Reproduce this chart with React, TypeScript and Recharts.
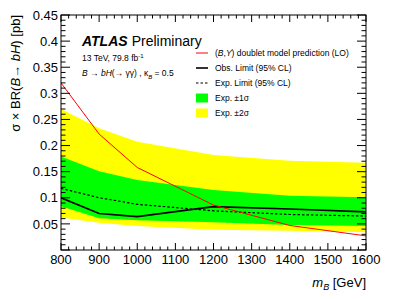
// Cross-section x BR limit vs. B mass, ATLAS-style (inward ticks, framed plot).
// Bands are drawn as range Areas, limits and the theory curve as Lines.

import { Area, ComposedChart, Line, XAxis, YAxis } from 'recharts';

const MASSES = [800, 900, 1000, 1200, 1400, 1600];
const THEORY = [0.32, 0.222, 0.158, 0.086, 0.047, 0.027];
const OBS_LIMIT = [0.1, 0.07, 0.064, 0.083, 0.0785, 0.073];
const EXP_LIMIT = [0.118, 0.1, 0.0875, 0.075, 0.068, 0.065];
const ONE_SIGMA_LO = [0.084, 0.061, 0.057, 0.053, 0.048, 0.046];
const ONE_SIGMA_HI = [0.179, 0.151, 0.134, 0.115, 0.104, 0.101];
const TWO_SIGMA_LO = [0.062, 0.052, 0.046, 0.039, 0.037, 0.034];
const TWO_SIGMA_HI = [0.27, 0.233, 0.2075, 0.182, 0.171, 0.167];

const X_TICKS = [800, 900, 1000, 1100, 1200, 1300, 1400, 1500, 1600];
const Y_TICKS = [0.05, 0.1, 0.15, 0.2, 0.25, 0.3, 0.35, 0.4, 0.45];
const Y_TICK_LABELS = ['0.05', '0.1', '0.15', '0.2', '0.25', '0.3', '0.35', '0.4', '0.45'];

// every tick position (major + minor); labels only on the majors
const X_ALL_TICKS = Array.from({ length: 41 }, (_, i) => 800 + 20 * i);
const Y_ALL_TICKS = Array.from({ length: 46 }, (_, i) => i / 100);

const X_DOMAIN: [number, number] = [800, 1600];
const Y_DOMAIN: [number, number] = [0, 0.45];

// plot frame, in px
const PLOT = { left: 61, right: 366, top: 15, bottom: 250 };

const COLORS = {
  yellow: '#FFFF00',
  green: '#00FF00',
  red: '#FF0000',
  ink: '#000000',
};

const FONT = '"Liberation Sans", Arial, Helvetica, sans-serif';

const data = MASSES.map((m, i) => ({
  m,
  theory: THEORY[i],
  obs: OBS_LIMIT[i],
  exp: EXP_LIMIT[i],
  band1: [ONE_SIGMA_LO[i], ONE_SIGMA_HI[i]],
  band2: [TWO_SIGMA_LO[i], TWO_SIGMA_HI[i]],
}));

// ROOT-style inward ticks on both sides, label on the left for majors
function YTick(props: any) {
  const { x, y, payload } = props;
  const v: number = payload.value;
  const idx = Y_TICKS.indexOf(v);
  const major = Math.round(v * 100) % 5 === 0;
  const len = major ? 9 : 4.5;
  return (
    <g>
      <line x1={PLOT.left} x2={PLOT.left + len} y1={y} y2={y} stroke={COLORS.ink} strokeWidth={1} />
      <line x1={PLOT.right} x2={PLOT.right - len} y1={y} y2={y} stroke={COLORS.ink} strokeWidth={1} />
      {idx >= 0 && (
        <text x={x} y={y} dy="0.355em" textAnchor="end" fontSize={13} fontFamily={FONT} fill={COLORS.ink}>
          {Y_TICK_LABELS[idx]}
        </text>
      )}
    </g>
  );
}

function XTick(props: any) {
  const { x, y, payload } = props;
  const v: number = payload.value;
  const major = X_TICKS.includes(v);
  const len = major ? 7 : 3.5;
  return (
    <g>
      <line x1={x} x2={x} y1={PLOT.bottom} y2={PLOT.bottom - len} stroke={COLORS.ink} strokeWidth={1} />
      <line x1={x} x2={x} y1={PLOT.top} y2={PLOT.top + len} stroke={COLORS.ink} strokeWidth={1} />
      {major && (
        <text x={x} y={y} dy="0.71em" textAnchor="middle" fontSize={13} fontFamily={FONT} fill={COLORS.ink}>
          {v}
        </text>
      )}
    </g>
  );
}

const LEGEND_X = 196;
const LEGEND_TEXT_X = 215;
const LEGEND_ROWS = [53, 68, 83, 98, 113];

function Overlay() {
  const fs = 8.5;
  return (
    <svg
      width={407}
      height={299}
      style={{ position: 'absolute', left: 0, top: 0, pointerEvents: 'none' }}
      fontFamily={FONT}
    >
      <rect
        x={PLOT.left}
        y={PLOT.top}
        width={PLOT.right - PLOT.left}
        height={PLOT.bottom - PLOT.top}
        fill="none"
        stroke={COLORS.ink}
        strokeWidth={1}
      />

      {/* ATLAS label */}
      <text x={82} y={46} fontSize={14} fill={COLORS.ink}>
        <tspan fontWeight="bold" fontStyle="italic">ATLAS</tspan>
        <tspan dx={4}>Preliminary</tspan>
      </text>
      <text x={82} y={61} fontSize={fs} fill={COLORS.ink}>
        13 TeV, 79.8 fb
        <tspan dy={-3.5} fontSize={6}>-1</tspan>
      </text>
      <text x={82} y={76} fontSize={fs} fill={COLORS.ink}>
        <tspan fontStyle="italic">B</tspan>
        {' \u2192 '}
        <tspan fontStyle="italic">bH</tspan>
        {'(\u2192 \u03b3\u03b3) , \u03ba'}
        <tspan dy={2.5} fontSize={6} fontStyle="italic">B</tspan>
        <tspan dy={-2.5}>{' = 0.5'}</tspan>
      </text>

      {/* legend */}
      <line x1={LEGEND_X} x2={LEGEND_X + 12} y1={LEGEND_ROWS[0]} y2={LEGEND_ROWS[0]} stroke={COLORS.red} strokeWidth={1} />
      <line x1={LEGEND_X} x2={LEGEND_X + 12} y1={LEGEND_ROWS[1]} y2={LEGEND_ROWS[1]} stroke={COLORS.ink} strokeWidth={1.6} />
      <line x1={LEGEND_X} x2={LEGEND_X + 12} y1={LEGEND_ROWS[2]} y2={LEGEND_ROWS[2]} stroke={COLORS.ink} strokeWidth={1.2} strokeDasharray="2.5 2" />
      <rect x={LEGEND_X} y={LEGEND_ROWS[3] - 4.5} width={12} height={9} fill={COLORS.green} />
      <rect x={LEGEND_X} y={LEGEND_ROWS[4] - 4.5} width={12} height={9} fill={COLORS.yellow} />
      <g fontSize={fs} fill={COLORS.ink}>
        <text x={LEGEND_TEXT_X} y={LEGEND_ROWS[0] + 3}>
          (<tspan fontStyle="italic">B</tspan>,<tspan fontStyle="italic">Y</tspan>) doublet model prediction (LO)
        </text>
        <text x={LEGEND_TEXT_X} y={LEGEND_ROWS[1] + 3}>Obs. Limit (95% CL)</text>
        <text x={LEGEND_TEXT_X} y={LEGEND_ROWS[2] + 3}>Exp. Limit (95% CL)</text>
        <text x={LEGEND_TEXT_X} y={LEGEND_ROWS[3] + 3}>{'Exp. \u00b11\u03c3'}</text>
        <text x={LEGEND_TEXT_X} y={LEGEND_ROWS[4] + 3}>{'Exp. \u00b12\u03c3'}</text>
      </g>

      {/* axis titles */}
      <text transform="translate(20, 15) rotate(-90)" textAnchor="end" fontSize={13} fill={COLORS.ink}>
        {'\u03c3 \u00d7 BR('}
        <tspan fontStyle="italic">B</tspan>
        {'\u2192 '}
        <tspan fontStyle="italic">bH</tspan>
        {') [pb]'}
      </text>
      <text x={366} y={287} textAnchor="end" fontSize={13} fill={COLORS.ink}>
        <tspan fontStyle="italic">m</tspan>
        <tspan dy={3} fontSize={9} fontStyle="italic">B</tspan>
        <tspan dy={-3}>{' [GeV]'}</tspan>
      </text>
    </svg>
  );
}

export default function App() {
  return (
    <div
      style={{
        position: 'absolute',
        left: 0,
        top: 0,
        width: 407,
        height: 299,
        background: '#fff',
      }}
    >
      <ComposedChart
        width={407}
        height={299}
        data={data}
        margin={{ top: PLOT.top, right: 407 - PLOT.right, bottom: 0, left: 0 }}
      >
        <XAxis
          dataKey="m"
          type="number"
          domain={X_DOMAIN}
          allowDataOverflow
          ticks={X_ALL_TICKS}
          interval={0}
          height={299 - PLOT.bottom}
          tick={<XTick />}
          tickSize={0}
          tickMargin={5}
          axisLine={false}
          tickLine={false}
        />
        <YAxis
          type="number"
          domain={Y_DOMAIN}
          allowDataOverflow
          ticks={Y_ALL_TICKS}
          interval={0}
          width={PLOT.left}
          tick={<YTick />}
          tickSize={0}
          tickMargin={3}
          axisLine={false}
          tickLine={false}
        />

        <Area
          dataKey="band2"
          type="linear"
          fill={COLORS.yellow}
          fillOpacity={1}
          stroke="none"
          isAnimationActive={false}
        />
        <Area
          dataKey="band1"
          type="linear"
          fill={COLORS.green}
          fillOpacity={1}
          stroke="none"
          isAnimationActive={false}
        />
        <Line
          dataKey="exp"
          type="linear"
          stroke={COLORS.ink}
          strokeWidth={1.2}
          strokeDasharray="2.5 2"
          dot={false}
          isAnimationActive={false}
        />
        <Line
          dataKey="obs"
          type="linear"
          stroke={COLORS.ink}
          strokeWidth={1.6}
          dot={false}
          isAnimationActive={false}
        />
        <Line
          dataKey="theory"
          type="linear"
          stroke={COLORS.red}
          strokeWidth={1}
          dot={false}
          isAnimationActive={false}
        />
      </ComposedChart>
      <Overlay />
    </div>
  );
}
